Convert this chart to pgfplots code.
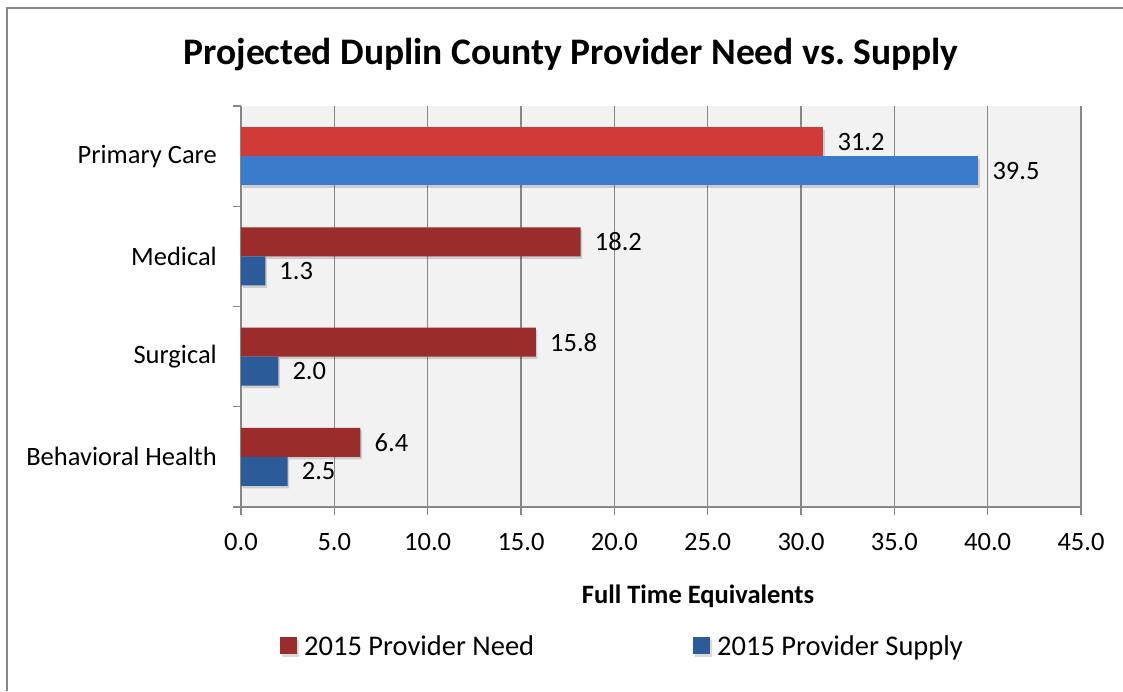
\documentclass[border=0pt]{standalone}
\usepackage{pgfplots}
\pgfplotsset{compat=1.18}
\usepackage{fontspec}
\setmainfont{Carlito}
\usetikzlibrary{shadows}
\definecolor{needdark}{HTML}{9A2D2C}
\definecolor{supplydark}{HTML}{2B5C99}
\definecolor{needlight}{HTML}{D03A37}
\definecolor{supplylight}{HTML}{3A7BCB}
\definecolor{gridgray}{HTML}{878787}
\definecolor{plotbg}{HTML}{F2F2F2}
\begin{document}
\begin{tikzpicture}[x=1pt,y=1pt]
\useasboundingbox (0,0) rectangle (1123,691);
\draw[gridgray, line width=2pt] (7,0) -- (7,683) -- (1123,683);
\node[font=\fontsize{37.5}{44}\selectfont\bfseries] at (571,636) {Projected Duplin County Provider Need vs.\ Supply};
\node[font=\fontsize{26.5}{31}\selectfont\bfseries] at (698,95) {Full Time Equivalents};
\begin{axis}[
  at={(241pt,184pt)}, anchor=south west,
  width=840pt, height=401pt, scale only axis,
  xbar, bar width=29pt,
  xmin=0, xmax=45, xtick={0,5,10,15,20,25,30,35,40,45},
  ymin=-0.5, ymax=3.5, ytick={0,1,2,3},
  yticklabels={Behavioral Health, Surgical, Medical, Primary Care},
  minor ytick={-0.5,0.5,1.5,2.5,3.5},
  axis x line*=bottom, axis y line*=left,
  axis line style={gridgray, line width=1.3pt},
  tick align=outside,
  major tick length=8pt, minor tick length=8pt,
  every tick/.style={gridgray, line width=1.3pt},
  major y tick style={draw=none},
  minor y tick style={draw=gridgray, line width=1.3pt},
  xmajorgrids=true, ymajorgrids=false,
  major grid style={gridgray, line width=1.3pt},
  axis background/.style={fill=plotbg},
  /pgf/number format/.cd, fixed, fixed zerofill, precision=1, assume math mode=true, /pgfplots/.cd,
  tick label style={font=\fontsize{26.5}{31}\selectfont, inner sep=0pt},
  xticklabel style={yshift=-18pt},
  yticklabel style={xshift=-16pt},
  nodes near coords,
  every node near coord/.append style={font=\fontsize{26.5}{31}\selectfont, anchor=west, inner sep=0pt, xshift=14pt, text=black},
  legend columns=2,
  legend style={at={(0.4542,-0.3466)}, anchor=center, draw=none, fill=none,
    font=\fontsize{28.5}{34}\selectfont,
    /tikz/every even column/.append style={column sep=157pt}},
  legend image code/.code={\fill[#1,draw=none] (0pt,-8.5pt) rectangle (17pt,8.5pt); \path (22pt,0pt);},
]
\addplot[fill=needdark, draw=none, bar shift=14.5pt, drop shadow={shadow xshift=1.5pt, shadow yshift=-2.5pt, fill=black, opacity=0.15}]
  coordinates {(18.2,2) (15.8,1) (6.4,0)};
\addplot[fill=supplydark, draw=none, bar shift=-14.5pt, drop shadow={shadow xshift=1.5pt, shadow yshift=-2.5pt, fill=black, opacity=0.15}]
  coordinates {(1.3,2) (2.0,1) (2.5,0)};
\addplot[fill=needlight, draw=none, bar shift=14.5pt, forget plot, drop shadow={shadow xshift=1.5pt, shadow yshift=-2.5pt, fill=black, opacity=0.15}]
  coordinates {(31.2,3)};
\addplot[fill=supplylight, draw=none, bar shift=-14.5pt, forget plot, drop shadow={shadow xshift=1.5pt, shadow yshift=-2.5pt, fill=black, opacity=0.15}]
  coordinates {(39.5,3)};
\legend{2015 Provider Need, 2015 Provider Supply}
\end{axis}
\end{tikzpicture}
\end{document}
